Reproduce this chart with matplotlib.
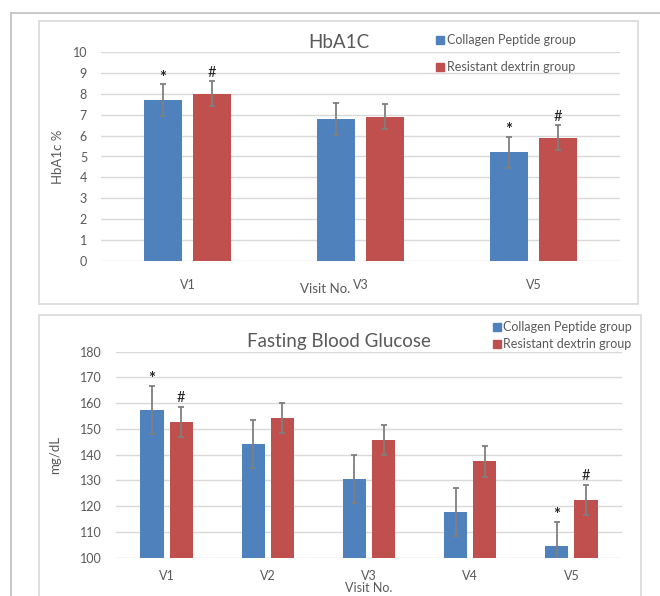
import matplotlib.pyplot as plt
from matplotlib.patches import Rectangle
import numpy as np

plt.rcParams['font.family'] = ['Lato', 'DejaVu Sans']

BLUE = '#4F81BD'
RED = '#C0504D'
GREY_TXT = '#595959'
ERR = '#7F7F7F'

# HbA1c panel
hb_visits = ['V1', 'V3', 'V5']
hb_collagen = [7.7, 6.8, 5.2]
hb_collagen_err = [0.75, 0.75, 0.75]
hb_dextrin = [8.0, 6.9, 5.9]
hb_dextrin_err = [0.6, 0.6, 0.6]
hb_collagen_sig = ['*', '', '*']
hb_dextrin_sig = ['#', '', '#']

# Fasting blood glucose panel
fbg_visits = ['V1', 'V2', 'V3', 'V4', 'V5']
fbg_collagen = [157.4, 144.2, 130.6, 117.7, 104.5]
fbg_collagen_err = [9.4, 9.4, 9.4, 9.4, 9.4]
fbg_dextrin = [152.7, 154.3, 145.7, 137.5, 122.4]
fbg_dextrin_err = [5.9, 5.9, 5.8, 6.0, 6.0]
fbg_collagen_sig = ['*', '', '', '', '*']
fbg_dextrin_sig = ['#', '', '', '', '#']

W, H = 660, 596
fig = plt.figure(figsize=(6.6, 5.96), dpi=100)


def fx(px):
    return px / W


def fy(py):
    return 1 - py / H


# outer frame lines and panel boxes
fig.add_artist(plt.Line2D([fx(11), 1], [fy(12.7), fy(12.7)], color='#BFBFBF', lw=1.2))
fig.add_artist(plt.Line2D([fx(11), fx(11)], [fy(12.7), 0], color='#BFBFBF', lw=1.2))
fig.add_artist(Rectangle((fx(38.7), fy(304)), fx(638 - 38.7), (304 - 20.7) / H,
                         fill=False, ec='#D9D9D9', lw=1.2))
fig.add_artist(Rectangle((fx(38.7), fy(600)), fx(641 - 38.7), (600 - 315) / H,
                         fill=False, ec='#D9D9D9', lw=1.2))


def panel(ax, visits, c, ce, d, de, csig, dsig, bw, gap, ylim, step, xpad):
    x = np.arange(len(visits))
    off = (bw + gap) / 2
    ekw = dict(ecolor=ERR, elinewidth=1.3, capsize=2.5, capthick=1.3)
    ax.bar(x - off, c, bw, color=BLUE, yerr=ce, error_kw=ekw, zorder=2,
           label='Collagen Peptide group')
    ax.bar(x + off, d, bw, color=RED, yerr=de, error_kw=ekw, zorder=2,
           label='Resistant dextrin group')
    for i in range(len(visits)):
        if csig[i]:
            ax.annotate(csig[i], (x[i] - off, c[i] + ce[i]), xytext=(0, -1),
                        textcoords='offset points', ha='center', va='bottom',
                        fontsize=12, fontweight='bold', color='#222222')
        if dsig[i]:
            ax.annotate(dsig[i], (x[i] + off, d[i] + de[i]), xytext=(0, 1),
                        textcoords='offset points', ha='center', va='bottom',
                        fontsize=10.5, color='#222222')
    ax.set_xlim(-0.5, len(visits) - 0.5)
    ax.set_ylim(*ylim)
    ax.set_yticks(np.arange(ylim[0], ylim[1] + step / 2, step))
    ax.set_xticks(x)
    ax.set_xticklabels(visits)
    ax.grid(axis='y', color='#D9D9D9', lw=1, zorder=0)
    ax.set_axisbelow(True)
    for s in ax.spines.values():
        s.set_visible(False)
    ax.tick_params(length=0, colors=GREY_TXT, labelsize=9)
    ax.tick_params(axis='y', pad=10)
    ax.tick_params(axis='x', pad=xpad)


# top panel
ax1 = fig.add_axes([fx(101), fy(261), fx(620 - 101), (261 - 52) / H])
panel(ax1, hb_visits, hb_collagen, hb_collagen_err, hb_dextrin, hb_dextrin_err,
      hb_collagen_sig, hb_dextrin_sig, 0.22, 0.065, (0, 10), 1, 13)
ax1.set_ylabel('HbA1c %', color=GREY_TXT, fontsize=9.5, labelpad=6)
fig.text(fx(339), fy(43), 'HbA1C', ha='center', va='center', fontsize=13.5, color=GREY_TXT)
fig.text(fx(325), fy(289), 'Visit No.', ha='center', va='center', fontsize=9.5, color=GREY_TXT)
fig.add_artist(Rectangle((fx(436), fy(44)), 8 / W, 8 / H, color=BLUE))
fig.add_artist(Rectangle((fx(436), fy(71)), 8 / W, 8 / H, color=RED))
fig.text(fx(447), fy(40), 'Collagen Peptide group', va='center', fontsize=9, color=GREY_TXT)
fig.text(fx(447), fy(67), 'Resistant dextrin group', va='center', fontsize=9, color=GREY_TXT)

# bottom panel
ax2 = fig.add_axes([fx(116), fy(557.7), fx(622 - 116), (557.7 - 351.7) / H])
panel(ax2, fbg_visits, fbg_collagen, fbg_collagen_err, fbg_dextrin, fbg_dextrin_err,
      fbg_collagen_sig, fbg_dextrin_sig, 0.228, 0.06, (100, 180), 10, 9)
ax2.set_ylabel('mg/dL', color=GREY_TXT, fontsize=9.5, labelpad=14)
fig.text(fx(339), fy(341), 'Fasting Blood Glucose', ha='center', va='center',
         fontsize=13.5, color=GREY_TXT)
fig.text(fx(369), fy(588.5), 'Visit No.', ha='center', va='center', fontsize=9, color=GREY_TXT)
fig.add_artist(Rectangle((fx(493), fy(331)), 8 / W, 8 / H, color=BLUE))
fig.add_artist(Rectangle((fx(493), fy(348)), 8 / W, 8 / H, color=RED))
fig.text(fx(503), fy(327), 'Collagen Peptide group', va='center', fontsize=9, color=GREY_TXT)
fig.text(fx(503), fy(344), 'Resistant dextrin group', va='center', fontsize=9, color=GREY_TXT)

fig.savefig('out.png', dpi=100)
